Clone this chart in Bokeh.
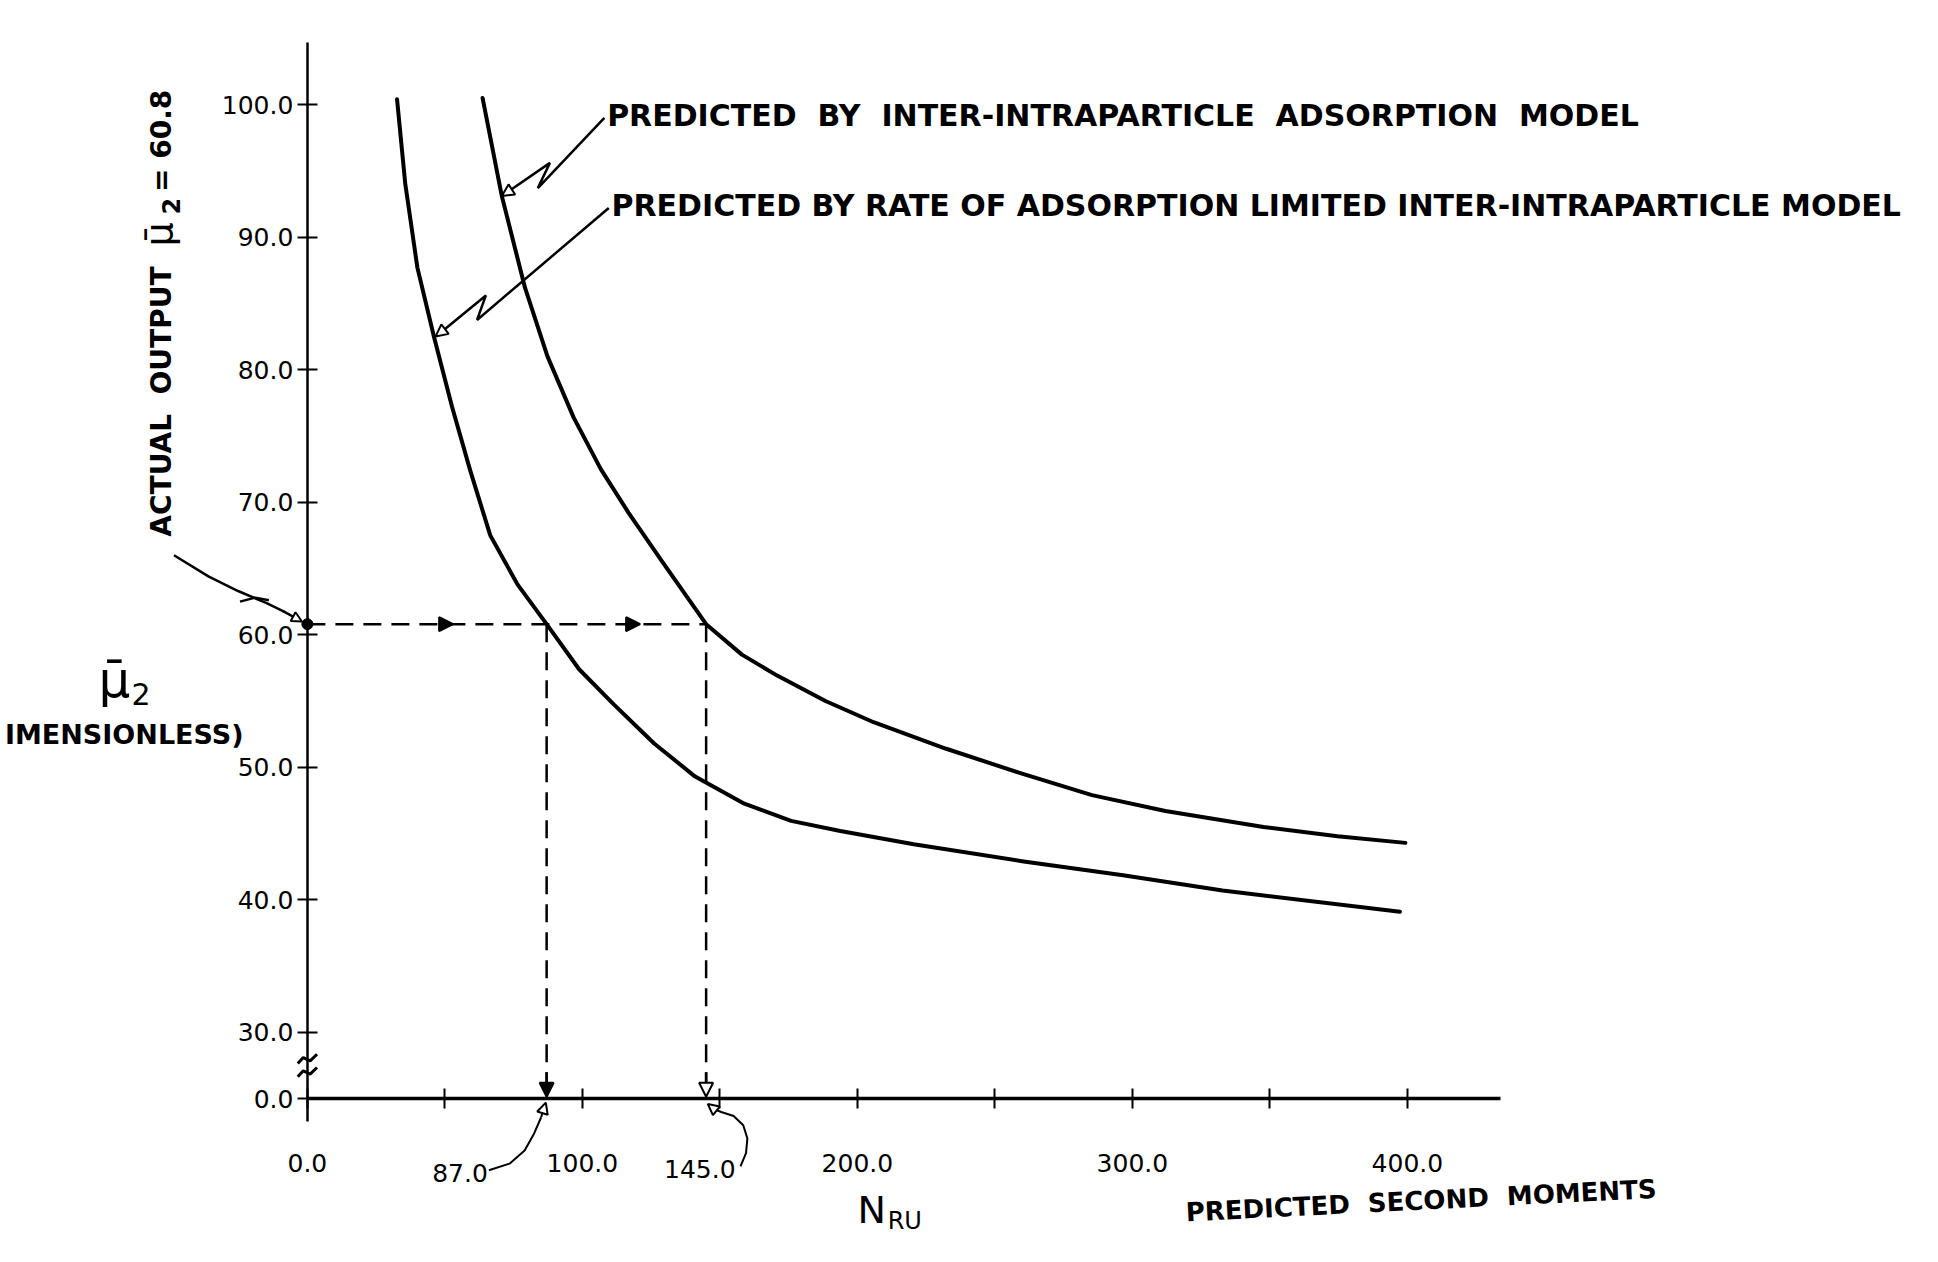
import math
from bokeh.plotting import figure
from bokeh.models import LinearAxis, FixedTicker, Range1d, Arrow, NormalHead
from bokeh.core.properties import value
from bokeh.embed import file_html
from bokeh.resources import INLINE

# ---------------- data ----------------
# predicted by rate of adsorption limited inter-intraparticle model
N_RATE_LIMITED = [32.6, 35.6, 40.0, 46.0, 52.6, 59.2, 66.5, 76.4, 87.0, 98.8, 111.4,
                  126.1, 141.0, 158.4, 175.9, 193.8, 220.5, 260.5, 296.6, 332.8, 397.3]
MU2_RATE_LIMITED = [100.4, 94.0, 87.7, 82.5, 77.2, 72.4, 67.5, 63.8, 60.8, 57.4, 54.75,
                    51.8, 49.3, 47.3, 45.96, 45.2, 44.2, 42.9, 41.85, 40.7, 39.1]
# predicted by inter-intraparticle adsorption model
N_INTER_INTRA = [63.7, 70.7, 79.1, 87.3, 96.8, 106.7, 116.8, 129.1, 145.0, 158.0,
                 171.0, 188.4, 205.9, 232.3, 258.7, 285.3, 312.0, 347.7, 374.6, 399.3]
MU2_INTER_INTRA = [100.5, 93.1, 86.2, 81.0, 76.4, 72.5, 69.2, 65.5, 60.8, 58.5,
                   56.9, 55.0, 53.4, 51.4, 49.6, 47.9, 46.7, 45.5, 44.8, 44.3]
ACTUAL_MU2 = 60.8
N_MATCH = [87.0, 145.0]
N_MATCH_LABELS = ["87.0", "145.0"]
X_TICKS = [0, 50, 100, 150, 200, 250, 300, 350, 400]
X_LABELED = [0, 100, 200, 300, 400]
Y_TICKS = [30, 40, 50, 60, 70, 80, 90, 100]
Y_ZERO_POS = 25  # position of "0.0" below the axis break

FONT = value("DejaVu Sans")
SP = "\u00a0"

p = figure(width=1920, height=1244,
           x_range=Range1d(-111.6, 586.6), y_range=Range1d(14.0, 107.85),
           x_axis_location=None, y_axis_location=None,
           toolbar_location=None, output_backend="svg", title=None, min_border=0)
p.grid.visible = False
p.outline_line_color = None
p.background_fill_color = "white"
p.border_fill_color = "white"

# ---------------- axes ----------------
xo = {t: (f"{t:.1f}" if t in X_LABELED else "") for t in X_TICKS}
xaxis = LinearAxis(fixed_location=Y_ZERO_POS, bounds=(0, 434),
                   ticker=FixedTicker(ticks=X_TICKS), major_label_overrides=xo,
                   axis_line_width=3.5, axis_line_color="black",
                   major_tick_in=10, major_tick_out=10, major_tick_line_width=2,
                   minor_tick_line_color=None, major_label_standoff=45,
                   major_label_text_font="DejaVu Sans",
                   major_label_text_font_size="25px", major_label_text_color="black")
p.add_layout(xaxis, "below")

yo = {Y_ZERO_POS: "0.0"}
yo.update({t: f"{t:.1f}" for t in Y_TICKS})
yaxis = LinearAxis(fixed_location=0, bounds=(23.3, 104.7),
                   ticker=FixedTicker(ticks=[Y_ZERO_POS] + Y_TICKS), major_label_overrides=yo,
                   axis_line_width=2.5, axis_line_color="black",
                   major_tick_in=10, major_tick_out=10, major_tick_line_width=2,
                   minor_tick_line_color=None, major_label_standoff=4,
                   major_label_text_font="DejaVu Sans",
                   major_label_text_font_size="25px", major_label_text_color="black")
p.add_layout(yaxis, "left")

# axis break mark
for yb in (26.9, 27.9):
    p.line([-3.5, -1.5, 1.0, 3.5], [yb - 0.25, yb + 0.2, yb - 0.05, yb + 0.45],
           line_width=3, color="black")

# ---------------- curves ----------------
p.line(N_RATE_LIMITED, MU2_RATE_LIMITED, line_width=4, color="black",
       line_join="round", line_cap="round")
p.line(N_INTER_INTRA, MU2_INTER_INTRA, line_width=4, color="black",
       line_join="round", line_cap="round")

# ---------------- dashed construction lines ----------------
p.line([0, max(N_MATCH)], [ACTUAL_MU2, ACTUAL_MU2], line_dash="18 10", line_width=2.5, color="black")
for n in N_MATCH:
    p.line([n, n], [ACTUAL_MU2, Y_ZERO_POS], line_dash="18 10", line_width=2.5, color="black")
p.scatter([0], [ACTUAL_MU2], size=11, color="black")

def head(fill, size=14):
    return NormalHead(size=size, fill_color=fill, line_color="black", line_width=2)

for xs in (45, 113):
    p.add_layout(Arrow(end=head("black"), x_start=xs, y_start=ACTUAL_MU2,
                       x_end=xs + 8, y_end=ACTUAL_MU2, line_alpha=0))
p.add_layout(Arrow(end=head("black"), x_start=N_MATCH[0], y_start=27.0,
                   x_end=N_MATCH[0], y_end=Y_ZERO_POS + 0.15, line_width=2.5))
p.add_layout(Arrow(end=head("white"), x_start=N_MATCH[1], y_start=27.0,
                   x_end=N_MATCH[1], y_end=Y_ZERO_POS + 0.15, line_width=2.5))

# ---------------- text helper ----------------
def txt(x, y, s, size, bold=False, align="left", baseline="middle", angle=0.0):
    p.text(x=[x], y=[y], text=[s], text_font=FONT, text_font_size=value(f"{size}px"),
           text_font_style="bold" if bold else "normal", text_align=align,
           text_baseline=baseline, angle=angle, text_color="black")

# model labels with lightning leaders
lab1 = (SP * 2).join(["PREDICTED", "BY", "INTER-INTRAPARTICLE", "ADSORPTION", "MODEL"])
txt(109.0, 99.2, lab1, 30, bold=True, baseline="alphabetic")
p.line([108.0, 83.8, 88.2, 72.5], [99.0, 93.7, 95.6, 93.35], line_width=2.5, color="black")
p.add_layout(Arrow(end=head("white", 12), x_start=74.0, y_start=93.55, x_end=70.7, y_end=93.1,
                   line_width=2.5))

txt(110.6, 92.4, "PREDICTED BY RATE OF ADSORPTION LIMITED INTER-INTRAPARTICLE MODEL", 30,
    bold=True, baseline="alphabetic")
p.line([109.6, 61.7, 64.9, 48.5], [92.2, 83.75, 85.6, 82.8], line_width=2.5, color="black")
p.add_layout(Arrow(end=head("white", 12), x_start=50.0, y_start=83.05, x_end=46.6, y_end=82.5,
                   line_width=2.5))

# actual output annotation (vertical text at left)
txt(-53.0, 67.4, "ACTUAL" + SP * 2 + "OUTPUT", 28, bold=True, angle=math.pi / 2)
txt(-54.0, 89.3, "\u03bc\u0304", 38, angle=math.pi / 2)
txt(-49.5, 91.7, "2", 24, bold=True, angle=math.pi / 2)
txt(-53.0, 93.4, "=" + SP + "60.8", 28, bold=True, angle=math.pi / 2)
p.line([-48.5, -36.0, -25.2, -15.0, -8.5], [66.0, 64.4, 63.3, 62.4, 61.75],
       line_width=2.5, color="black")
p.line([-24.5, -19.0, -14.0], [62.5, 62.8, 62.6], line_width=2.5, color="black")
p.add_layout(Arrow(end=head("white", 10), x_start=-9.0, y_start=61.8, x_end=-2.0, y_end=61.0,
                   line_width=2.5))

# y-axis title
txt(-76.0, 56.6, "\u03bc\u0304", 50)
txt(-64.0, 55.5, "2", 30)
txt(-110.0, 52.5, "IMENSIONLESS)", 27, bold=True)

# matched-value labels under the x axis with curved leaders
txt(55.5, 19.4, N_MATCH_LABELS[0], 25, align="center")
p.line([66.0, 73.5, 79.0, 82.5, 85.0], [19.6, 20.1, 21.1, 22.4, 23.6], line_width=2, color="black")
p.add_layout(Arrow(end=head("white", 11), x_start=85.0, y_start=23.6, x_end=86.7, y_end=24.7,
                   line_width=2))
txt(142.7, 19.7, N_MATCH_LABELS[1], 25, align="center")
p.line([157.5, 159.5, 160.0, 158.5, 155.0, 150.5, 148.0],
       [19.9, 20.9, 22.0, 23.0, 23.7, 24.0, 24.2], line_width=2, color="black")
p.add_layout(Arrow(end=head("white", 11), x_start=148.0, y_start=24.2, x_end=145.6, y_end=24.6,
                   line_width=2))

# x-axis title N_RU
txt(200.0, 16.6, "N", 38)
txt(211.0, 15.8, "RU", 24)

# caption fragment at the bottom edge
txt(490.6, 18.2, "PREDICTED" + SP * 2 + "SECOND" + SP * 2 + "MOMENTS", 26, bold=True,
    align="right", baseline="alphabetic", angle=0.05)

open("out.html", "w").write(file_html(p, INLINE))
